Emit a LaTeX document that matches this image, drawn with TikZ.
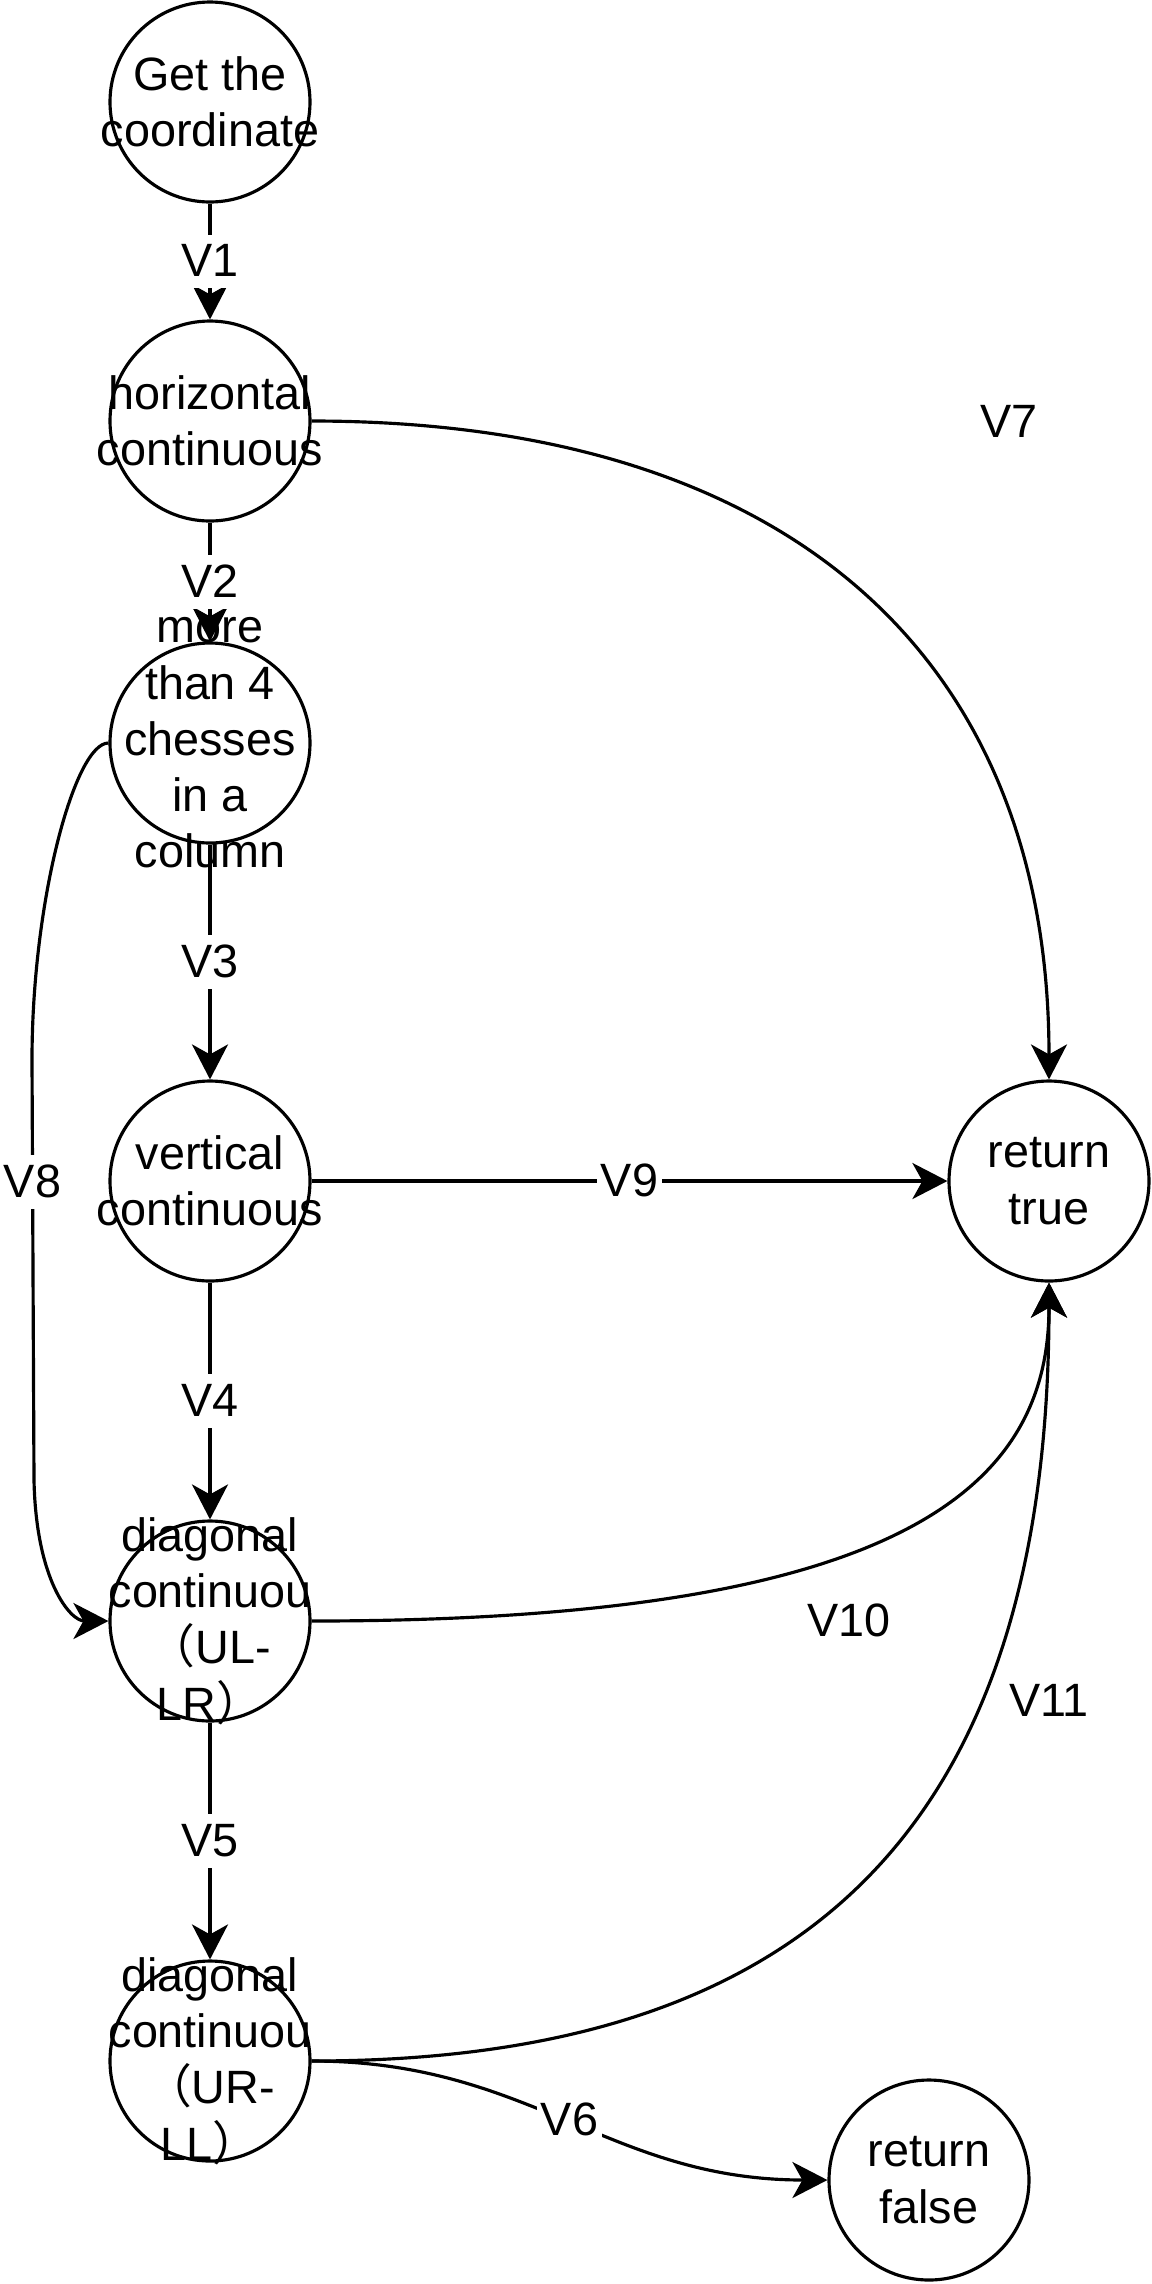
\documentclass[tikz,border=0pt]{standalone}
\usepackage{fontspec}
\setmainfont{Liberation Sans}
\newfontfamily\cjk{Noto Sans CJK SC}
\usetikzlibrary{arrows.meta}
\tikzset{
  st/.style={circle, draw=black, fill=white, line width=1.8pt, minimum size=4cm,
             inner sep=0pt},                                          % state circle
  txt/.style={font=\fontsize{26.6pt}{32pt}\selectfont, align=center, inner sep=0pt},
  de/.style={draw=black, line width=1.8pt,
             -{Stealth[length=7mm, width=7.2mm, inset=2mm]}},        % directed edge
  lbl/.style={font=\fontsize{26.6pt}{32pt}\selectfont, fill=white, inner xsep=2pt,
              inner ysep=0pt, text height=24pt, text depth=6.5pt},    % edge label
}

\begin{document}
\begin{tikzpicture}
  \path[use as bounding box] (0,0) rectangle (23.04,-45.68);
  \node[st] (n1) at (4.2,-2.04)   {};
  \node[st] (n2) at (4.2,-8.42)   {};
  \node[st] (n3) at (4.2,-14.86)  {};
  \node[st] (n4) at (4.2,-23.62)  {};
  \node[st] (n5) at (4.2,-32.42)  {};
  \node[st] (n6) at (4.2,-41.22)  {};
  \node[st] (rt) at (20.98,-23.62) {};
  \node[st] (rf) at (18.58,-43.6)  {};
  \node[txt] (t1) at (n1) {Get the\\coordinate};
  \node[txt] (t2) at (n2) {horizontal\\continuous};
  \node[txt] (t3) at (n3) {more\\than 4\\chesses\\in a\\column};
  \node[txt] (t4) at (n4) {vertical\\continuous};
  \node[txt] (t5) at (n5) {diagonal\\continuou\\{\cjk （}UL-\\LR{\cjk ）}};
  \node[txt] (t6) at (n6) {diagonal\\continuou\\{\cjk （}UR-\\LL{\cjk ）}};
  \node[txt] (tt) at (rt) {return\\true};
  \node[txt] (tf) at (rf) {return\\false};
  % main chain
  \foreach \u/\v/\lab in {n1/n2/V1,n2/n3/V2,n3/n4/V3,n4/n5/V4,n5/n6/V5}
    \draw[de] (\u) -- node[lbl] {\lab} (\v);
  \draw[de] (n4) -- node[lbl] {V9} (rt);
  \draw[de] (n6.east) .. controls +(4.4,0) and +(-4.4,0) .. node[lbl] {V6} (rf.west);
  \draw[de] (n3.west) .. controls (1.5,-14.86) and (0.64,-18.0) .. (0.64,-21.2)
    -- node[lbl, pos=0.29] {V8} (0.68,-29.6)
    .. controls (0.72,-31.6) and (1.4,-32.42) .. (n5.west);
  % curved edges into return true
  \draw[de] (n2.east) .. controls +(9.6,0) and +(0,8.4) .. (rt.north);
  \draw[de] (n5.east) .. controls +(12,0) and +(0,-4) .. (rt.south);
  \draw[de] (n6.east) .. controls +(9.6,0) and +(0,-11.2) .. (rt.south);
  \node[lbl] (l7)  at (20.18,-8.44)  {V7};
  \node[lbl] (l10) at (16.98,-32.42) {V10};
  \node[lbl] (l11) at (20.98,-34.02) {V11};
\end{tikzpicture}
\end{document}
